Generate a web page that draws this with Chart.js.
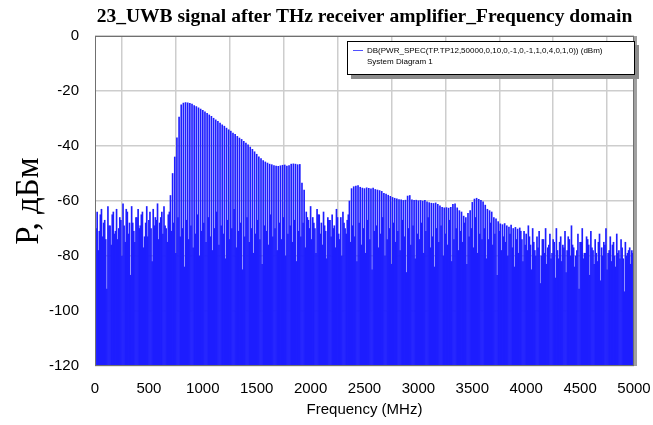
<!DOCTYPE html>
<html>
<head>
<meta charset="utf-8">
<script src="https://cdn.jsdelivr.net/npm/chart.js@4.4.1/dist/chart.umd.min.js"></script>
<style>
  html, body { margin: 0; padding: 0; background: #fff; }
  #spectrum__canvas { display: block; }
</style>
</head>
<body>
<canvas id="spectrum__canvas" width="653" height="425"></canvas>
<script>
const CHART_TITLE = "23_UWB signal after THz receiver amplifier_Frequency domain";
const LEGEND_TRACE = "DB(PWR_SPEC(TP.TP12,50000,0,10,0,-1,0,-1,1,0,4,0,1,0)) (dBm)";
const LEGEND_SOURCE = "System Diagram 1";
const X_AXIS_TITLE = "Frequency (MHz)";
const Y_AXIS_TITLE = "Р, дБм";

const FREQ_MIN = 0;
const FREQ_MAX = 5000;
const FREQ_TICK_STEP = 500;
const POWER_MIN = -120;
const POWER_MAX = 0;
const POWER_TICK_STEP = 20;

// bins at 0, 20, 40 ... 5000 MHz (dBm) - these carry the two signal humps
const evenBinDbm = [
  -66, -64, -71, -63, -68, -74, -62, -69, -65, -72,
  -63, -70, -67, -61, -75, -64, -68, -62, -71, -66,
  -63, -69, -64, -73, -62, -67, -70, -63, -66, -61,
  -68, -64, -62, -70, -65,
  -58, -50, -44, -37, -29.5,
  -25, -24.4, -24.2, -24.3, -24.5, -24.8, -25.3, -25.7, -26.1, -26.6,
  -27, -27.6, -28.1, -28.7, -29.2, -29.9, -30.5, -31, -31.7, -32.3,
  -32.8, -33.5, -34.1, -34.6, -35.3, -35.8, -36.5, -37.1, -37.6, -38.3,
  -38.9, -39.6, -40.4, -41.2, -42.1, -43, -43.9, -44.6, -45.3, -45.8,
  -46.2, -46.6, -46.8, -47.1, -47.3, -47.4, -47.2, -47, -46.9, -47.3,
  -47.1, -46.6, -46.5, -46.6, -46.8, -46.7, -53.5, -56,
  -64, -67,
  -62, -66, -70, -63, -65, -68, -64, -71, -66, -67,
  -65, -69, -63, -72, -66, -64, -70, -67,
  -60,
  -55.5,
  -54.8, -54.6, -54.4, -55, -55.3, -55.5, -55.2, -55.4, -55.6, -55.3,
  -55.8, -56, -56.2, -56.5, -57.2, -57.5, -57.9, -58.3, -58.7, -59,
  -59.2, -59.5, -59.6, -59.8, -59.7, -58.2, -58, -59.6, -59.8, -59.7,
  -59.9, -59.8, -60, -59.8, -60.3, -60.6, -60.8, -60.9, -60.7, -61.2,
  -61.8, -62.3, -62.5, -62.4, -62.6, -62.3, -61.2, -61, -62.5, -63.5,
  -64, -65.5, -66, -64.5, -63.5, -60.5, -59.3, -59, -59.4, -59.8,
  -60.3, -61.5, -63, -63.5, -64, -66, -66.5, -67.5, -68.3, -68.6,
  -68.2, -69, -69.5, -68.8, -70, -69.6, -70.2, -69.8,
  -74, -71,
  -72, -69, -76, -70, -78, -73, -71, -80, -74, -70,
  -77, -72, -79, -75, -70, -81, -73, -76, -71, -78,
  -74, -69, -77, -80, -72, -75, -70, -79, -73, -76,
  -71, -78, -74, -82, -72, -77, -75, -70, -79, -73,
  -76, -80, -72, -78, -74, -81, -75, -79, -77, -78, -79,
];

// bins in between at 10, 30 ... 4990 MHz (dBm) - noise floor only
const oddBinDbm = [
  -70, -78, -65, -73, -67, -92, -69, -76, -64, -71,
  -74, -66, -80, -69, -63, -72, -87, -68, -75, -66,
  -70, -65, -77, -68, -73, -64, -82, -69, -67, -74,
  -66, -72, -69, -75, -64, -71, -68, -79, -66, -73,
  -70, -84, -67, -74, -69, -77, -72, -65, -80, -71,
  -68, -75, -66, -73, -78, -70, -64, -76, -69, -72,
  -81, -67, -74, -70, -63, -77, -71, -68, -85, -73,
  -66, -75, -70, -79, -72, -67, -74, -83, -69, -71,
  -76, -65, -73, -70, -78, -68, -74, -66, -80, -72,
  -69, -75, -67, -82, -71, -73, -68, -77, -66, -70,
  -74, -68, -79, -65, -72, -76, -69, -81, -67, -73,
  -70, -77, -66, -74, -80, -68, -72, -65, -75, -69,
  -73, -82, -68, -76, -70, -79, -67, -74, -85, -71,
  -69, -77, -72, -66, -80, -74, -70, -83, -68, -75,
  -71, -78, -67, -73, -86, -70, -76, -69, -81, -72,
  -74, -68, -79, -71, -66, -77, -73, -84, -70, -75,
  -69, -80, -72, -76, -67, -82, -74, -70, -78, -71,
  -75, -68, -83, -73, -70, -77, -66, -79, -72, -74,
  -70, -81, -74, -68, -76, -72, -87, -71, -78, -73,
  -75, -80, -72, -77, -84, -74, -79, -71, -82, -76,
  -78, -73, -85, -75, -80, -77, -90, -74, -79, -83,
  -76, -81, -74, -88, -78, -75, -82, -77, -86, -73,
  -80, -76, -84, -78, -92, -75, -81, -79, -74, -87,
  -77, -83, -79, -75, -89, -80, -76, -85, -78, -82,
  -75, -84, -79, -81, -77, -93, -80, -78, -83, -79,
];

const BIN_WIDTH_MHZ = 10;

function buildSpectrum() {
  const points = [];
  evenBinDbm.forEach((dbm, i) => {
    points.push({ x: i * 2 * BIN_WIDTH_MHZ, y: [POWER_MIN, dbm] });
    if (i < oddBinDbm.length) {
      points.push({ x: (i * 2 + 1) * BIN_WIDTH_MHZ, y: [POWER_MIN, oddBinDbm[i]] });
    }
  });
  return points;
}

// title, legend box and the plot frame are drawn on top of the chart area
const decorPlugin = {
  id: "decor",
  afterDatasetsDraw(chart) {
    const { ctx, chartArea: area } = chart;
    ctx.save();

    // frame with a grey shadow on the right
    ctx.fillStyle = "#a0a0a0";
    ctx.fillRect(area.right, area.top, 3, area.bottom - area.top);
    ctx.strokeStyle = "#707070";
    ctx.lineWidth = 1;
    ctx.strokeRect(area.left + 0.5, area.top + 0.5, area.right - area.left - 1, area.bottom - area.top - 1);

    // legend box
    const boxW = 288;
    const boxH = 34;
    const boxX = area.right - boxW + 1;
    const boxY = area.top + 5;
    ctx.fillStyle = "#8c8c8c";
    ctx.fillRect(boxX + 4, boxY + 4, boxW, boxH);
    ctx.fillStyle = "#ffffff";
    ctx.fillRect(boxX, boxY, boxW, boxH);
    ctx.strokeStyle = "#000000";
    ctx.strokeRect(boxX + 0.5, boxY + 0.5, boxW - 1, boxH - 1);

    ctx.strokeStyle = "#5050ff";
    ctx.beginPath();
    ctx.moveTo(boxX + 6, boxY + 9.5);
    ctx.lineTo(boxX + 16, boxY + 9.5);
    ctx.stroke();

    ctx.fillStyle = "#000000";
    ctx.font = "8px 'Liberation Sans', Arial, sans-serif";
    ctx.textBaseline = "middle";
    ctx.textAlign = "left";
    ctx.fillText(LEGEND_TRACE, boxX + 20, boxY + 9.5);
    ctx.fillText(LEGEND_SOURCE, boxX + 20, boxY + 20.5);

    // chart title, centred over the plot
    ctx.font = "bold 19.5px 'Liberation Serif', 'Times New Roman', serif";
    ctx.textAlign = "center";
    ctx.fillText(CHART_TITLE, (area.left + area.right) / 2, 17);

    ctx.restore();
  },
};

function makeChart() {
  const CANVAS_CTX = document.getElementById("spectrum__canvas").getContext("2d");
  const tickFont = { family: "'Liberation Sans', Arial, sans-serif", size: 15 };
  return new Chart(CANVAS_CTX, {
    type: "bar",
    data: {
      datasets: [
        {
          label: LEGEND_TRACE,
          data: buildSpectrum(),
          backgroundColor: "rgb(30,30,255)",
          borderWidth: 0,
          barThickness: 1,
        },
      ],
    },
    options: {
      responsive: false,
      animation: false,
      layout: { padding: { top: 36, right: 19, left: 0, bottom: 0 } },
      plugins: {
        legend: { display: false },
        tooltip: { enabled: false },
      },
      scales: {
        x: {
          type: "linear",
          min: FREQ_MIN,
          max: FREQ_MAX,
          offset: false,
          ticks: {
            stepSize: FREQ_TICK_STEP,
            color: "#000",
            font: tickFont,
            padding: 14,
            maxRotation: 0,
            callback: (value) => String(value),
          },
          grid: { color: "rgb(205,205,205)", lineWidth: 1.5, drawTicks: false },
          border: { display: false },
          title: { display: true, text: X_AXIS_TITLE, color: "#000", font: tickFont, padding: { top: 0, bottom: 6 } },
          afterFit: (scale) => {
            scale.height = 59;
            // keep the plot as wide as in the original, the last label may hang over
            scale.paddingLeft = 0;
            scale.paddingRight = 0;
          },
        },
        y: {
          min: POWER_MIN,
          max: POWER_MAX,
          ticks: { stepSize: POWER_TICK_STEP, color: "#000", font: tickFont, padding: 16 },
          grid: { color: "rgb(205,205,205)", lineWidth: 1.5, drawTicks: false },
          border: { display: false },
          title: {
            display: true,
            text: Y_AXIS_TITLE,
            color: "#000",
            font: { family: "'Liberation Serif', 'Times New Roman', serif", size: 33 },
            padding: { top: 10, bottom: 0 },
          },
          afterFit: (scale) => { scale.width = 95; },
        },
      },
    },
    plugins: [decorPlugin],
  });
}

makeChart();
</script>
</body>
</html>
